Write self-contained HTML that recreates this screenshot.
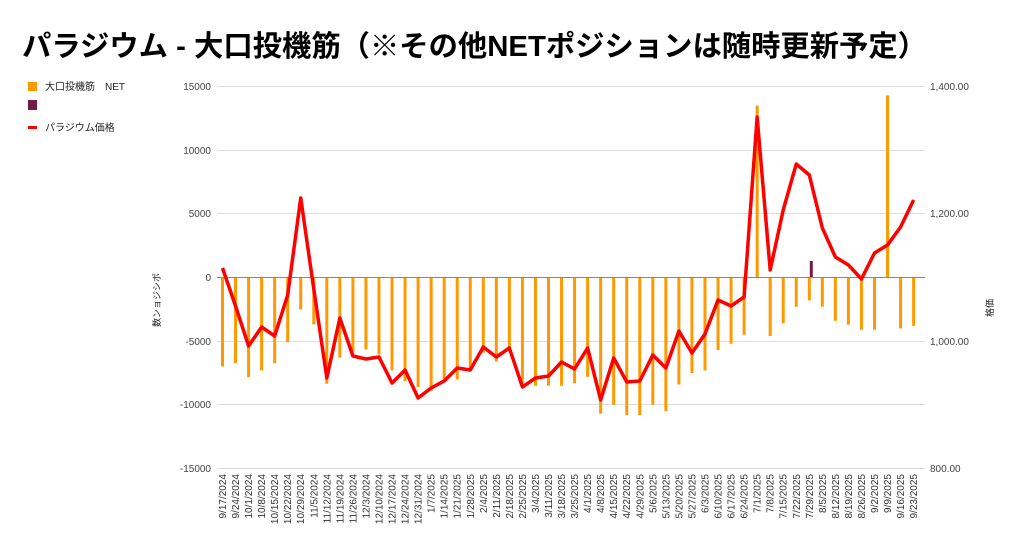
<!DOCTYPE html>
<html><head><meta charset="utf-8"><style>
body{margin:0;background:#fff;}
svg{display:block;font-family:"Liberation Sans","Noto Sans CJK JP",sans-serif;}
</style></head><body>
<svg width="1024" height="554" viewBox="0 0 1024 554" xmlns="http://www.w3.org/2000/svg">
<text x="22" y="56" font-size="29" font-weight="bold" fill="#000" textLength="905" lengthAdjust="spacingAndGlyphs">パラジウム - 大口投機筋（※その他NETポジションは随時更新予定）</text>
<rect x="28" y="82" width="9" height="9" fill="#ff9900"/>
<text x="45" y="90" font-size="10" fill="#222">大口投機筋　NET</text>
<rect x="28" y="100" width="9" height="10" fill="#741b47"/>
<rect x="28" y="126" width="9" height="3" fill="#ff0000"/>
<text x="45" y="131" font-size="10" fill="#222">パラジウム価格</text>
<g stroke="#ddd" stroke-width="1">
<line x1="217" x2="925" y1="86.5" y2="86.5"/><line x1="217" x2="925" y1="150.5" y2="150.5"/><line x1="217" x2="925" y1="213.5" y2="213.5"/><line x1="217" x2="925" y1="341.5" y2="341.5"/><line x1="217" x2="925" y1="404.5" y2="404.5"/><line x1="217" x2="925" y1="468.5" y2="468.5"/>
</g>
<g font-size="10" fill="#444" text-anchor="end">
<text x="211" y="90">15000</text><text x="211" y="154">10000</text><text x="211" y="217">5000</text><text x="211" y="281">0</text><text x="211" y="345">-5000</text><text x="211" y="408">-10000</text><text x="211" y="472">-15000</text>
</g>
<g font-size="10" fill="#444">
<text x="930" y="90">1,400.00</text><text x="930" y="217">1,200.00</text><text x="930" y="345">1,000.00</text><text x="930" y="472">800.00</text>
</g>
<text transform="translate(160,300) rotate(-90)" font-size="9" fill="#222" text-anchor="middle">数ンョジシポ</text>
<text transform="translate(993,308) rotate(-90)" font-size="9" fill="#222" text-anchor="middle">格価</text>
<g id="bars"></g>
<line x1="217" x2="925" y1="277.5" y2="277.5" stroke="#888" stroke-width="1"/>
<polyline id="price" fill="none" stroke="#ff0000" stroke-width="3.5" stroke-linejoin="round"/>
<g id="labels" font-size="10" fill="#333"></g>
</svg>
<script>
var dates=["9/17/2024","9/24/2024","10/1/2024","10/8/2024","10/15/2024","10/22/2024","10/29/2024","11/5/2024","11/12/2024","11/19/2024","11/26/2024","12/3/2024","12/10/2024","12/17/2024","12/24/2024","12/31/2024","1/7/2025","1/14/2025","1/21/2025","1/28/2025","2/4/2025","2/11/2025","2/18/2025","2/25/2025","3/4/2025","3/11/2025","3/18/2025","3/25/2025","4/1/2025","4/8/2025","4/15/2025","4/22/2025","4/29/2025","5/6/2025","5/13/2025","5/20/2025","5/27/2025","6/3/2025","6/10/2025","6/17/2025","6/24/2025","7/1/2025","7/8/2025","7/15/2025","7/22/2025","7/29/2025","8/5/2025","8/12/2025","8/19/2025","8/26/2025","9/2/2025","9/9/2025","9/16/2025","9/23/2025"];
var net=[-6990,-6730,-7830,-7300,-6730,-5080,-2510,-3690,-8350,-6290,-5800,-5650,-6050,-7300,-8150,-8600,-8900,-8000,-8000,-7300,-5900,-6600,-5700,-8600,-8500,-8500,-8500,-8300,-7800,-10700,-10000,-10800,-10800,-10000,-10500,-8400,-7500,-7300,-5700,-5200,-4500,13500,-4600,-3600,-2300,-1800,-2300,-3400,-3700,-4100,-4100,14300,-4000,-3800];
var py=[268,306,346,327,336,295,198,289,378,318,356,359,357,383,370,398,388,381,368,370,347,357,348,387,378,376,362,369,348,400,358,382,381,355,368,331,353,334,300,306,297,117,270,210,164,175,228,257,265,279,253,245,227,200];
var ns="http://www.w3.org/2000/svg",bars=document.getElementById("bars"),lab=document.getElementById("labels"),pts=[];
for(var i=0;i<54;i++){var x=222.5+i*13.04;var y=277.5-net[i]*0.012733;
var r=document.createElementNS(ns,"rect");r.setAttribute("x",x-1.5);r.setAttribute("width",3);r.setAttribute("y",Math.min(y,277.5));r.setAttribute("height",Math.abs(y-277.5));r.setAttribute("fill","#ff9900");bars.appendChild(r);
pts.push(x+","+py[i]);
var t=document.createElementNS(ns,"text");t.setAttribute("transform","translate("+(x+3.5)+",474) rotate(-90)");t.setAttribute("text-anchor","end");t.textContent=dates[i];lab.appendChild(t);}
var p=document.createElementNS(ns,"rect");var px=222.5+45*13.04;p.setAttribute("x",px+0.5);p.setAttribute("width",3);p.setAttribute("y",277.5-1300*0.012733);p.setAttribute("height",1300*0.012733);p.setAttribute("fill","#741b47");bars.appendChild(p);
document.getElementById("price").setAttribute("points",pts.join(" "));
</script>
</body></html>
